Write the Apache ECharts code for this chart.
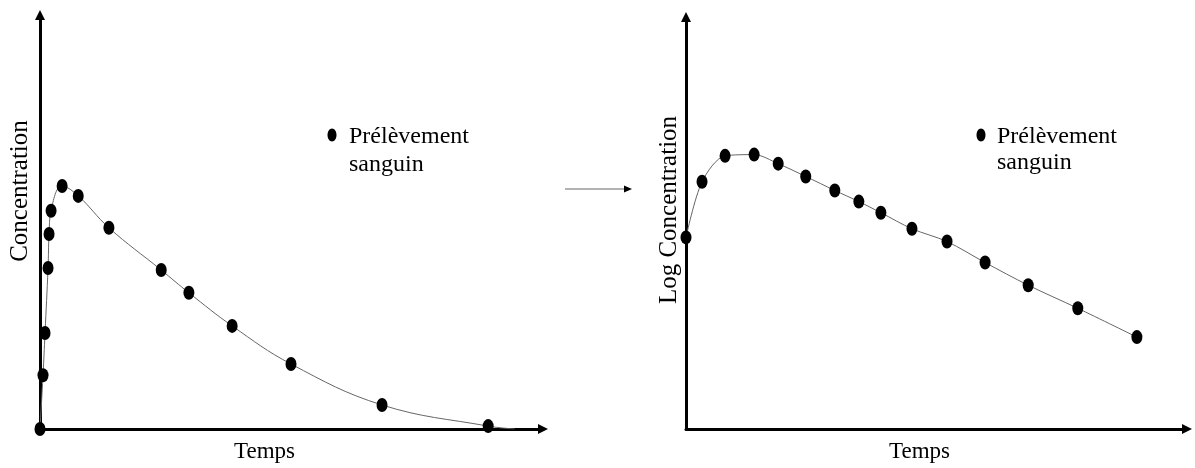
<!DOCTYPE html>
<html>
<head>
<meta charset="utf-8">
<script src="https://cdn.jsdelivr.net/npm/echarts@6/dist/echarts.min.js"></script>
<style>
html,body{margin:0;padding:0;background:#fff;}
#chart{width:1195px;height:468px;}
</style>
</head>
<body>
<div id="chart"></div>
<script>
// ---- Data (abstract units, axes 0..100) ----
var concTimes   = [0, 0.6, 1.0, 1.6, 1.8, 2.2, 4.4, 7.6, 13.7, 24.1, 29.6, 38.2, 49.9, 68.0, 89.1];
var concValues  = [0, 13.0, 23.2, 38.9, 47.1, 52.7, 58.7, 56.3, 48.6, 38.4, 32.9, 24.9, 15.7, 5.8, 0.7];
var concTail    = [94.4, 0];   // where the fitted curve meets the time axis

var logTimes    = [0, 3.2, 7.8, 13.6, 18.4, 23.9, 29.7, 34.5, 38.9, 45.1, 52.1, 59.7, 68.3, 78.2, 90.0];
var logValues   = [46.5, 60.0, 66.3, 66.6, 64.4, 61.3, 57.9, 55.2, 52.5, 48.6, 45.5, 40.4, 34.9, 29.3, 22.3];

var xName = 'Temps';
var yNameLeft = 'Concentration';
var yNameRight = 'Log Concentration';
var legendLine1 = 'Prélèvement';
var legendLine2 = 'sanguin';
var seriesName = 'Prélèvement sanguin';

var FONT = 'Liberation Serif';
var ellipse = 'path://M0,1 A1,1 0 1,1 2,1 A1,1 0 1,1 0,1 Z';

function pairs(xs, ys){ return xs.map(function(x,i){ return [x, ys[i]]; }); }
var concPts = pairs(concTimes, concValues);
var logPts = pairs(logTimes, logValues);
var concCurve = concPts.concat([concTail]);

function xAxisCfg(idx, padRight){
  return {
    type:'value', gridIndex: idx, min:0, max:100,
    name: xName, nameLocation:'middle', nameGap: 11,
    nameTextStyle:{fontFamily:FONT, fontSize:23, color:'#000', padding:[0, padRight, 0, 0]},
    axisLine:{show:true, onZero:false, symbol:['none','triangle'], symbolSize:[10,10], lineStyle:{color:'#000', width:3}},
    axisTick:{show:false}, axisLabel:{show:false}, splitLine:{show:false}
  };
}
function yAxisCfg(idx){
  return {
    type:'value', gridIndex: idx, min:0, max:100,
    axisLine:{show:true, onZero:false, symbol:['none','triangle'], symbolSize:[10,10], lineStyle:{color:'#000', width:3}},
    axisTick:{show:false}, axisLabel:{show:false}, splitLine:{show:false}
  };
}

var chart = echarts.init(document.getElementById('chart'), null, {renderer:'canvas'});
chart.setOption({
  backgroundColor:'#fff',
  animation:false,
  grid:[
    {left:40, top:15, width:503, height:414},
    {left:686, top:17, width:501, height:413}
  ],
  xAxis:[xAxisCfg(0, 54), xAxisCfg(1, 34)],
  yAxis:[yAxisCfg(0), yAxisCfg(1)],
  series:[
    {type:'line', xAxisIndex:0, yAxisIndex:0, data:concCurve, smooth:0.4, symbol:'none',
     lineStyle:{color:'#666', width:1}, silent:true, z:2},
    {type:'scatter', name:seriesName, xAxisIndex:0, yAxisIndex:0, data:concPts,
     symbol:ellipse, symbolSize:[11,14], itemStyle:{color:'#000', opacity:1}, z:3},
    {type:'line', xAxisIndex:1, yAxisIndex:1, data:logPts, smooth:0.3, symbol:'none',
     lineStyle:{color:'#666', width:1}, silent:true, z:2},
    {type:'scatter', name:seriesName, xAxisIndex:1, yAxisIndex:1, data:logPts,
     symbol:ellipse, symbolSize:[11,14], itemStyle:{color:'#000', opacity:1}, z:3}
  ],
  graphic:[
    // y axis names
    {type:'text', x:20, y:191, rotation:Math.PI/2,
     style:{text:yNameLeft, font:'25px "'+FONT+'"', fill:'#000', textAlign:'center', textVerticalAlign:'middle'}},
    {type:'text', x:669, y:210, rotation:Math.PI/2,
     style:{text:yNameRight, font:'25px "'+FONT+'"', fill:'#000', textAlign:'center', textVerticalAlign:'middle'}},
    // legend-like labels
    {type:'ellipse', shape:{cx:332, cy:135, rx:4.5, ry:6.5}, style:{fill:'#000'}},
    {type:'text', x:349, y:137, style:{text:legendLine1, font:'24px "'+FONT+'"', fill:'#000', textVerticalAlign:'middle'}},
    {type:'text', x:349, y:165, style:{text:legendLine2, font:'24px "'+FONT+'"', fill:'#000', textVerticalAlign:'middle'}},
    {type:'ellipse', shape:{cx:981, cy:135, rx:4.5, ry:6.5}, style:{fill:'#000'}},
    {type:'text', x:997, y:137, style:{text:legendLine1, font:'24px "'+FONT+'"', fill:'#000', textVerticalAlign:'middle'}},
    {type:'text', x:997, y:163, style:{text:legendLine2, font:'24px "'+FONT+'"', fill:'#000', textVerticalAlign:'middle'}},
    // middle arrow
    {type:'line', shape:{x1:565, y1:189, x2:625, y2:189}, style:{stroke:'#666', lineWidth:1}},
    {type:'polygon', shape:{points:[[624,185.5],[632,189],[624,192.5]]}, style:{fill:'#000'}}
  ]
});
</script>
</body>
</html>
